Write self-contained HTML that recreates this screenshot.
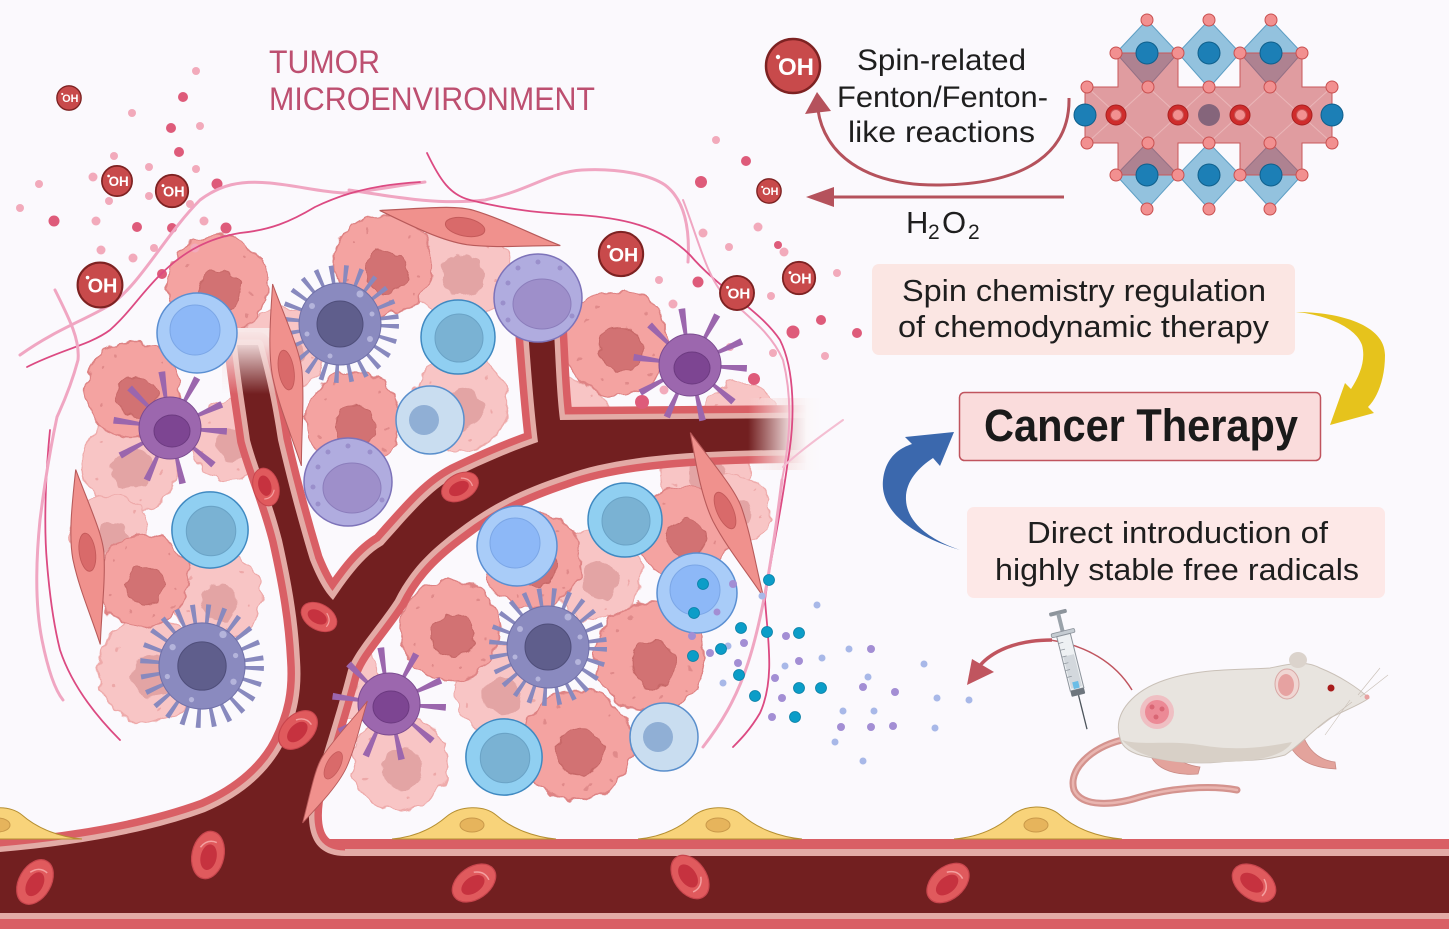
<!DOCTYPE html>
<html><head><meta charset="utf-8"><style>
html,body{margin:0;padding:0;background:#fbf9fd;}
svg{display:block;}
text{font-family:"Liberation Sans",Arial,sans-serif;}
</style></head><body>
<svg width="1449" height="929" viewBox="0 0 1449 929" xmlns="http://www.w3.org/2000/svg">
<defs>
<filter id="wob" x="-5%" y="-5%" width="110%" height="110%">
<feTurbulence type="fractalNoise" baseFrequency="0.07" numOctaves="2" seed="4" result="n"/>
<feDisplacementMap in="SourceGraphic" in2="n" scale="12" xChannelSelector="R" yChannelSelector="G"/>
</filter>
<linearGradient id="fadeV" x1="0" y1="0" x2="0" y2="1"><stop offset="0" stop-color="#f8e8e8" stop-opacity="1"/><stop offset="0.25" stop-color="#f8e6e6" stop-opacity="0.9"/><stop offset="1" stop-color="#f8e6e6" stop-opacity="0"/></linearGradient>
<linearGradient id="fadeH" x1="0" y1="0" x2="1" y2="0"><stop offset="0" stop-color="#f6e0e0" stop-opacity="0"/><stop offset="0.55" stop-color="#f7e6e7" stop-opacity="0.9"/><stop offset="0.8" stop-color="#fbf7f9" stop-opacity="1"/><stop offset="1" stop-color="#fbf9fd" stop-opacity="1"/></linearGradient>
<g id="tc"><circle r="50" fill="#f4a3a1" stroke="#de8384" stroke-width="1.5"/><circle cx="3" cy="6" r="21" fill="#d27273" stroke="#c76767"/>
<g fill="#e08a8a"><circle cx="-30" cy="-22" r="1.6"/><circle cx="-18" cy="-35" r="1.6"/><circle cx="28" cy="-28" r="1.6"/><circle cx="35" cy="10" r="1.6"/><circle cx="-35" cy="15" r="1.6"/><circle cx="10" cy="38" r="1.6"/><circle cx="-15" cy="35" r="1.6"/><circle cx="32" cy="30" r="1.6"/></g></g>
<g id="tl"><circle r="50" fill="#f8c5c5" stroke="#eeaaaa" stroke-width="1.5"/><circle cx="3" cy="6" r="21" fill="#e3a4a4"/>
<g fill="#eda8a8"><circle cx="-30" cy="-22" r="1.6"/><circle cx="28" cy="-28" r="1.6"/><circle cx="35" cy="10" r="1.6"/><circle cx="-35" cy="15" r="1.6"/><circle cx="10" cy="38" r="1.6"/></g></g>
<g id="bl"><circle r="40" fill="#a9ccf8" stroke="#5b8fd2" stroke-width="1.5"/><circle cx="-2" cy="-3" r="25" fill="#8db8f7" stroke="#7ba6e6"/></g>
<g id="cy"><circle r="37" fill="#90cff1" stroke="#3f89c1" stroke-width="1.5"/><circle cx="1" cy="1" r="24" fill="#7ab2d3" stroke="#6aa3c6"/></g>
<g id="pa"><circle r="34" fill="#c9ddf0" stroke="#5a8fcc" stroke-width="1.5"/><circle cx="-6" cy="0" r="15" fill="#90afd5"/></g>
<g id="lv"><circle r="44" fill="#b0acdf" stroke="#7d73b9" stroke-width="1.5"/><ellipse cx="4" cy="6" rx="29" ry="25" fill="#9e8fca" stroke="#8b7dbb"/><g fill="#9a8fcb"><circle cx="-30" cy="-15" r="2.5"/><circle cx="-20" cy="-30" r="2.5"/><circle cx="0" cy="-36" r="2.5"/><circle cx="22" cy="-30" r="2.5"/><circle cx="-35" cy="5" r="2.5"/><circle cx="-30" cy="22" r="2.5"/><circle cx="34" cy="18" r="2.5"/></g></g>
<g id="sp"><circle r="49" fill="none" stroke="#8889be" stroke-width="20" stroke-dasharray="4 9"/><circle r="41" fill="#8a8abf" stroke="#7171a9"/><circle r="23" fill="#5f5e8c" stroke="#4f4e7a"/><g fill="#b4b4db"><circle cx="-28" cy="-18" r="3"/><circle cx="20" cy="-30" r="3.5"/><circle cx="30" cy="15" r="3"/><circle cx="-10" cy="32" r="2.5"/><circle cx="-33" cy="10" r="2.5"/><circle cx="32" cy="-10" r="2.5"/></g></g>
<g id="dc"><circle r="42" fill="none" stroke="#9b66ad" stroke-width="30" stroke-dasharray="5 22"/><circle r="31" fill="#9c67ae" stroke="#7b4b90"/><ellipse cx="2" cy="3" rx="18" ry="16" fill="#7d4592" stroke="#6c3a80"/></g>
<g id="fb"><path d="M-92,0 C-50,-10 -20,-20 0,-18 C30,-15 60,-6 92,0 C60,6 30,15 0,17 C-25,18 -55,10 -92,0 Z" fill="#f0918d" stroke="#b85a5a" stroke-width="1.2"/><ellipse cx="-5" cy="0" rx="20" ry="9" fill="#d96a6a" stroke="#c45a5a"/></g>
<g id="rbc"><ellipse rx="24" ry="16" fill="#e05a5d" stroke="#c8454d" stroke-width="1.2"/><ellipse cx="-2" cy="1" rx="13" ry="8" fill="#c6323f"/><path d="M6,-9 Q16,-4 14,6" stroke="#f4a0a0" stroke-width="1.5" fill="none"/></g>
<path id="tree" d="M237,345 L258,345 C266,375 272,400 278,440 C285,470 295,510 310,560 C318,580 325,592 333,600 C350,575 365,555 383,545 C410,515 430,490 455,477 C490,460 515,450 538,442 C534,410 531,370 528,330 L554,330 C556,370 557,395 560,420 L805,418 L805,450 C700,450 620,455 565,475 C520,490 490,505 460,528 C430,550 410,570 395,600 C375,630 355,650 348,670 C335,720 318,770 310,800 C306,830 312,856 345,856 L420,856 L420,875 L0,875 L0,852 C80,845 150,832 205,812 C245,795 270,770 283,745 C298,715 302,690 300,660 C298,620 292,585 282,540 C272,500 258,470 250,440 C245,405 240,375 237,345 Z"/>
</defs>

<rect width="1449" height="929" fill="#fbf9fd"/>

<!-- tumor cells -->
<g filter="url(#wob)">
<use href="#tl" transform="translate(283,350) scale(.84)"/>
<use href="#tl" transform="translate(460,270)"/>
<use href="#tl" transform="translate(130,463) scale(.96)"/>
<use href="#tl" transform="translate(230,440) scale(.8)"/>
<use href="#tl" transform="translate(110,535) scale(.8)"/>
<use href="#tl" transform="translate(217,597) scale(.88)"/>
<use href="#tl" transform="translate(150,670) scale(1.04)"/>
<use href="#tl" transform="translate(460,403) scale(.96)"/>
<use href="#tl" transform="translate(740,420) scale(.76)"/>
<use href="#tl" transform="translate(705,470) scale(.9)"/>
<use href="#tl" transform="translate(597,575) scale(.9)"/>
<use href="#tl" transform="translate(500,690) scale(.9)"/>
<use href="#tl" transform="translate(400,763) scale(.96)"/>
<use href="#tl" transform="translate(570,420) scale(.8)"/>
<use href="#tl" transform="translate(340,680) scale(.8)"/>
<use href="#tl" transform="translate(735,510) scale(.7)"/>
<use href="#tc" transform="translate(217,285)"/>
<use href="#tc" transform="translate(133,390) scale(.96)"/>
<use href="#tc" transform="translate(143,580) scale(.92)"/>
<use href="#tc" transform="translate(383,265)"/>
<use href="#tc" transform="translate(353,420) scale(.96)"/>
<use href="#tc" transform="translate(617,343) scale(1.04)"/>
<use href="#tc" transform="translate(683,533) scale(.92)"/>
<use href="#tc" transform="translate(533,560) scale(.96)"/>
<use href="#tc" transform="translate(450,630)"/>
<use href="#tc" transform="translate(650,657) scale(1.1)"/>
<use href="#tc" transform="translate(577,745) scale(1.1)"/>
</g>

<!-- bottom vessel walls -->
<rect x="0" y="839" width="1449" height="10" fill="#d95f65"/>
<rect x="0" y="849" width="1449" height="7" fill="#e3aba6"/>
<rect x="0" y="913" width="1449" height="6" fill="#e3aba6"/>
<rect x="0" y="919" width="1449" height="10" fill="#d95f65"/>
<!-- tree vessel -->
<use href="#tree" fill="#721f20" stroke="#d95f65" stroke-width="26" stroke-linejoin="round"/>
<use href="#tree" fill="#721f20" stroke="#e3aba6" stroke-width="11" stroke-linejoin="round"/>
<use href="#tree" fill="#721f20" stroke="none"/>
<rect x="345" y="839" width="1104" height="10" fill="#d95f65"/>
<rect x="345" y="849" width="1104" height="7" fill="#e3aba6"/>
<rect x="0" y="856" width="1449" height="57" fill="#721f20"/>

<!-- red blood cells -->
<use href="#rbc" transform="translate(35,882) rotate(-60)"/>
<use href="#rbc" transform="translate(208,855) rotate(-78)"/>
<use href="#rbc" transform="translate(474,883) rotate(-35)"/>
<use href="#rbc" transform="translate(690,877) rotate(55)"/>
<use href="#rbc" transform="translate(948,883) rotate(-40)"/>
<use href="#rbc" transform="translate(1254,883) rotate(35)"/>
<use href="#rbc" transform="translate(266,487) rotate(75) scale(.8)"/>
<use href="#rbc" transform="translate(319,617) rotate(30) scale(.8)"/>
<use href="#rbc" transform="translate(298,730) rotate(-45) scale(.95)"/>
<use href="#rbc" transform="translate(460,487) rotate(-28) scale(.82)"/>

<!-- fades -->
<rect x="222" y="328" width="56" height="66" fill="url(#fadeV)"/>
<rect x="748" y="398" width="74" height="72" fill="url(#fadeH)"/>

<!-- pink dots -->
<g fill="#de5b7a">
<circle cx="183" cy="97" r="5"/><circle cx="171" cy="128" r="5"/><circle cx="179" cy="152" r="5"/><circle cx="217" cy="184" r="5.5"/><circle cx="54" cy="221" r="5.5"/><circle cx="137" cy="227" r="5"/><circle cx="172" cy="228" r="5"/><circle cx="226" cy="228" r="5.5"/><circle cx="162" cy="274" r="5"/><circle cx="746" cy="161" r="5"/><circle cx="701" cy="182" r="6"/><circle cx="698" cy="282" r="5.5"/><circle cx="793" cy="332" r="6.5"/><circle cx="821" cy="320" r="5"/><circle cx="754" cy="379" r="6"/><circle cx="642" cy="402" r="7"/><circle cx="857" cy="333" r="5"/><circle cx="778" cy="245" r="4"/>
</g>
<g fill="#f2aabb">
<circle cx="196" cy="71" r="4"/><circle cx="132" cy="113" r="4"/><circle cx="200" cy="126" r="4"/><circle cx="114" cy="156" r="4"/><circle cx="149" cy="167" r="4"/><circle cx="196" cy="169" r="4"/><circle cx="93" cy="177" r="4.5"/><circle cx="39" cy="184" r="4"/><circle cx="20" cy="208" r="4"/><circle cx="96" cy="221" r="4.5"/><circle cx="109" cy="201" r="4"/><circle cx="149" cy="196" r="4"/><circle cx="190" cy="204" r="4"/><circle cx="204" cy="221" r="4.5"/><circle cx="101" cy="250" r="4.5"/><circle cx="154" cy="248" r="4"/><circle cx="133" cy="258" r="4.5"/><circle cx="195" cy="248" r="4.5"/><circle cx="716" cy="140" r="4"/><circle cx="703" cy="233" r="4.5"/><circle cx="729" cy="247" r="4"/><circle cx="758" cy="227" r="4.5"/><circle cx="784" cy="252" r="4.5"/><circle cx="659" cy="280" r="4"/><circle cx="673" cy="304" r="4.5"/><circle cx="771" cy="296" r="4"/><circle cx="837" cy="273" r="4"/><circle cx="773" cy="353" r="4"/><circle cx="730" cy="347" r="4"/><circle cx="825" cy="356" r="4"/><circle cx="664" cy="390" r="4.5"/>
</g>

<!-- immune cells -->
<use href="#bl" transform="translate(197,333)"/>
<use href="#bl" transform="translate(517,546)"/>
<use href="#bl" transform="translate(697,593)"/>
<use href="#cy" transform="translate(458,337)"/>
<use href="#cy" transform="translate(210,530) scale(1.03)"/>
<use href="#cy" transform="translate(625,520)"/>
<use href="#cy" transform="translate(504,757) scale(1.03)"/>
<use href="#pa" transform="translate(430,420)"/>
<use href="#pa" transform="translate(664,737)"/>
<use href="#lv" transform="translate(538,298)"/>
<use href="#lv" transform="translate(348,482)"/>
<use href="#sp" transform="translate(340,324)"/>
<use href="#sp" transform="translate(202,666) scale(1.05)"/>
<use href="#sp" transform="translate(548,647)"/>
<use href="#dc" transform="translate(170,428)"/>
<use href="#dc" transform="translate(690,365)"/>
<use href="#dc" transform="translate(389,704)"/>

<!-- fibroblasts -->
<use href="#fb" transform="translate(470,228) rotate(11)"/>
<use href="#fb" transform="translate(88,557) rotate(82) scale(.96 .9)"/>
<use href="#fb" transform="translate(287,375) rotate(81) scale(1 .85)"/>
<use href="#fb" transform="translate(727,515) rotate(66) scale(.98 .9)"/>
<use href="#fb" transform="translate(335,762) rotate(-62) scale(.75)"/>

<!-- fibers -->
<g fill="none" stroke-linecap="round">
<path d="M20,355 C55,330 85,320 110,305 C140,285 165,235 200,200 C220,185 240,180 270,183 C300,186 320,192 345,193 C380,190 400,185 425,182" stroke="#f0a6c2" stroke-width="3"/>
<path d="M349,190 C400,198 440,205 485,200 C530,190 550,172 582,170 C620,168 650,175 665,185 C685,200 690,230 688,262" stroke="#f0a6c2" stroke-width="3"/>
<path d="M27,367 C60,350 90,345 110,330 C130,312 140,295 160,275 C185,250 210,238 240,233 C270,230 290,222 315,207 C340,195 370,185 420,182" stroke="#dc4a82" stroke-width="1.8"/>
<path d="M427,153 C440,180 450,195 470,200 C510,210 540,213 580,215 C620,218 660,225 690,255 C720,290 760,310 780,340 C795,370 795,420 788,460 C780,520 770,560 765,600 C768,640 775,680 760,713 C750,730 740,740 733,747" stroke="#dc4a82" stroke-width="1.8"/>
<path d="M683,200 C695,230 705,270 720,290 C745,315 770,330 783,360 C793,400 790,440 782,480" stroke="#f0a6c2" stroke-width="2"/>
<path d="M782,480 C772,560 762,620 748,663 C736,700 720,725 703,747" stroke="#f0a6c2" stroke-width="3"/>
<path d="M843,420 C815,440 795,455 783,467" stroke="#f4bed2" stroke-width="2"/>
<path d="M50,430 C45,480 44,530 47,563 C50,600 55,630 60,650 C70,680 90,710 120,740" stroke="#dc4a82" stroke-width="1.8"/>
<path d="M55,290 C70,320 80,340 78,360 C70,390 60,410 57,417 C50,450 45,480 40,520 C35,570 36,610 42,640 C48,670 55,690 63,700" stroke="#f0a6c2" stroke-width="3"/>
</g>

<!-- yellow cells -->
<g>
<g transform="translate(0,839)"><path d="M-82,0 C-60,-2 -42,-10 -28,-22 C-14,-34 10,-34 22,-24 C38,-10 60,-2 82,0 Z" fill="#f8d37a" stroke="#b58f32" stroke-width="1"/><ellipse cx="-2" cy="-14" rx="12" ry="7" fill="#e6b45c" stroke="#c9994a"/></g>
<g transform="translate(474,839)"><path d="M-82,0 C-60,-2 -42,-10 -28,-22 C-14,-34 10,-34 22,-24 C38,-10 60,-2 82,0 Z" fill="#f8d37a" stroke="#b58f32" stroke-width="1"/><ellipse cx="-2" cy="-14" rx="12" ry="7" fill="#e6b45c" stroke="#c9994a"/></g>
<g transform="translate(720,839)"><path d="M-82,0 C-60,-2 -42,-10 -28,-22 C-14,-34 10,-34 22,-24 C38,-10 60,-2 82,0 Z" fill="#f8d37a" stroke="#b58f32" stroke-width="1"/><ellipse cx="-2" cy="-14" rx="12" ry="7" fill="#e6b45c" stroke="#c9994a"/></g>
<g transform="translate(1038,839)"><path d="M-84,0 C-60,-2 -42,-10 -28,-22 C-14,-35 10,-35 22,-24 C38,-10 60,-2 84,0 Z" fill="#f8d37a" stroke="#b58f32" stroke-width="1"/><ellipse cx="-2" cy="-14" rx="12" ry="7" fill="#e6b45c" stroke="#c9994a"/></g>
</g>

<!-- particles -->
<g fill="#a8b8e8">
<circle cx="817" cy="605" r="3.5"/><circle cx="728" cy="646" r="3.5"/><circle cx="723" cy="683" r="3.5"/><circle cx="785" cy="666" r="3.5"/><circle cx="822" cy="658" r="3.5"/><circle cx="849" cy="649" r="3.5"/><circle cx="868" cy="677" r="3.5"/><circle cx="874" cy="711" r="3.5"/><circle cx="843" cy="711" r="3.5"/><circle cx="835" cy="742" r="3.5"/><circle cx="863" cy="761" r="3.5"/><circle cx="924" cy="664" r="3.5"/><circle cx="937" cy="698" r="3.5"/><circle cx="935" cy="728" r="3.5"/><circle cx="969" cy="700" r="3.5"/><circle cx="762" cy="596" r="3.5"/>
</g>
<g fill="#a38ed4">
<circle cx="733" cy="584" r="4"/><circle cx="717" cy="612" r="3.5"/><circle cx="692" cy="636" r="4"/><circle cx="744" cy="643" r="4"/><circle cx="710" cy="653" r="4"/><circle cx="738" cy="663" r="4"/><circle cx="786" cy="636" r="4"/><circle cx="799" cy="661" r="4"/><circle cx="775" cy="678" r="4"/><circle cx="782" cy="698" r="4"/><circle cx="772" cy="717" r="4"/><circle cx="871" cy="649" r="4"/><circle cx="863" cy="687" r="4"/><circle cx="895" cy="692" r="4"/><circle cx="841" cy="727" r="4"/><circle cx="871" cy="727" r="4"/><circle cx="893" cy="726" r="4"/>
</g>
<g fill="#0b9dc8" stroke="#087fa5" stroke-width=".8">
<circle cx="703" cy="584" r="5.5"/><circle cx="694" cy="613" r="5.5"/><circle cx="741" cy="628" r="5.5"/><circle cx="721" cy="649" r="5.5"/><circle cx="693" cy="656" r="5.5"/><circle cx="769" cy="580" r="5.5"/><circle cx="767" cy="632" r="5.5"/><circle cx="799" cy="633" r="5.5"/><circle cx="739" cy="675" r="5.5"/><circle cx="755" cy="696" r="5.5"/><circle cx="799" cy="688" r="5.5"/><circle cx="821" cy="688" r="5.5"/><circle cx="795" cy="717" r="5.5"/>
</g>

<!-- OH radicals -->
<g transform="translate(69,98) scale(.45)"><circle r="27" fill="#c84a4b" stroke="#7d2222" stroke-width="3"/><text x="3" y="9" font-size="24" font-weight="bold" fill="#fff" text-anchor="middle">OH</text><circle cx="-15" cy="-9" r="2.4" fill="#fff"/></g>
<g transform="translate(117,181) scale(.56)"><circle r="27" fill="#c84a4b" stroke="#7d2222" stroke-width="3"/><text x="3" y="9" font-size="24" font-weight="bold" fill="#fff" text-anchor="middle">OH</text><circle cx="-15" cy="-9" r="2.4" fill="#fff"/></g>
<g transform="translate(172,191) scale(.6)"><circle r="27" fill="#c84a4b" stroke="#7d2222" stroke-width="3"/><text x="3" y="9" font-size="24" font-weight="bold" fill="#fff" text-anchor="middle">OH</text><circle cx="-15" cy="-9" r="2.4" fill="#fff"/></g>
<g transform="translate(100,285) scale(.83)"><circle r="27" fill="#c84a4b" stroke="#7d2222" stroke-width="2.5"/><text x="3" y="9" font-size="24" font-weight="bold" fill="#fff" text-anchor="middle">OH</text><circle cx="-15" cy="-9" r="2.2" fill="#fff"/></g>
<g transform="translate(621,254) scale(.82)"><circle r="27" fill="#c84a4b" stroke="#7d2222" stroke-width="2.5"/><text x="3" y="9" font-size="24" font-weight="bold" fill="#fff" text-anchor="middle">OH</text><circle cx="-15" cy="-9" r="2.2" fill="#fff"/></g>
<g transform="translate(737,293) scale(.63)"><circle r="27" fill="#c84a4b" stroke="#7d2222" stroke-width="3"/><text x="3" y="9" font-size="24" font-weight="bold" fill="#fff" text-anchor="middle">OH</text><circle cx="-15" cy="-9" r="2.4" fill="#fff"/></g>
<g transform="translate(799,278) scale(.6)"><circle r="27" fill="#c84a4b" stroke="#7d2222" stroke-width="3"/><text x="3" y="9" font-size="24" font-weight="bold" fill="#fff" text-anchor="middle">OH</text><circle cx="-15" cy="-9" r="2.4" fill="#fff"/></g>
<g transform="translate(769,191) scale(.45)"><circle r="27" fill="#c84a4b" stroke="#7d2222" stroke-width="3"/><text x="3" y="9" font-size="24" font-weight="bold" fill="#fff" text-anchor="middle">OH</text><circle cx="-15" cy="-9" r="2.4" fill="#fff"/></g>
<g transform="translate(793,66)"><circle r="27" fill="#c84a4b" stroke="#7d2222" stroke-width="2.5"/><text x="3" y="9" font-size="24" font-weight="bold" fill="#fff" text-anchor="middle">OH</text><circle cx="-15" cy="-9" r="2.2" fill="#fff"/></g>

<!-- title -->
<text x="269" y="73" font-size="32" fill="#bd4f70" textLength="111" lengthAdjust="spacingAndGlyphs">TUMOR</text>
<text x="269" y="110" font-size="32" fill="#bd4f70" textLength="326" lengthAdjust="spacingAndGlyphs">MICROENVIRONMENT</text>

<!-- Fenton text and arrows -->
<g fill="#1e1e1e" font-size="30">
<text x="857" y="70" textLength="169" lengthAdjust="spacingAndGlyphs">Spin-related</text>
<text x="837" y="107" textLength="211" lengthAdjust="spacingAndGlyphs">Fenton/Fenton-</text>
<text x="848" y="142" textLength="187" lengthAdjust="spacingAndGlyphs">like reactions</text>
<text y="233" font-size="31"><tspan x="906">H</tspan><tspan x="928" y="239" font-size="21">2</tspan><tspan x="942" y="233">O</tspan><tspan x="968" y="239" font-size="21">2</tspan></text>
</g>
<path d="M1069,98 C1070,150 1030,184 940,185 C862,186 824,152 818,110" fill="none" stroke="#b5525c" stroke-width="3"/>
<polygon points="817,92 805,114 831,111" fill="#b5525c"/>
<line x1="1064" y1="197" x2="828" y2="197" stroke="#b5525c" stroke-width="3"/>
<polygon points="806,197 834,187 834,207" fill="#b5525c"/>

<!-- crystal -->
<g>
<g fill="#80b8d8" fill-opacity=".85" stroke="#5d9ec4" stroke-width="1">
<polygon points="1147,20 1178,53 1147,88 1116,53"/>
<polygon points="1209,20 1240,53 1209,88 1178,53"/>
<polygon points="1271,20 1302,53 1271,88 1240,53"/>
<polygon points="1147,143 1178,175 1147,209 1116,175"/>
<polygon points="1209,143 1240,175 1209,209 1178,175"/>
<polygon points="1271,143 1302,175 1271,209 1240,175"/>
</g>
<circle cx="1209" cy="115" r="11" fill="#3e86b0"/>
<path d="M1118,53 H1178 V87 H1240 V53 H1302 V87 H1332 V143 H1302 V175 H1240 V143 H1178 V175 H1118 V143 H1085 V87 H1118 Z" fill="#c8474a" fill-opacity=".52" stroke="#c8585a" stroke-width="1"/>
<g stroke="#f4d0d0" stroke-opacity=".5" stroke-width="1">
<line x1="1087" y1="87" x2="1148" y2="143"/><line x1="1148" y1="87" x2="1087" y2="143"/>
<line x1="1148" y1="87" x2="1209" y2="143"/><line x1="1209" y1="87" x2="1148" y2="143"/>
<line x1="1209" y1="87" x2="1270" y2="143"/><line x1="1270" y1="87" x2="1209" y2="143"/>
<line x1="1270" y1="87" x2="1332" y2="143"/><line x1="1332" y1="87" x2="1270" y2="143"/>
</g>
<g fill="#cf2c2c" stroke="#a81f1f">
<circle cx="1116" cy="115" r="10"/><circle cx="1178" cy="115" r="10"/><circle cx="1240" cy="115" r="10"/><circle cx="1302" cy="115" r="10"/>
</g>
<g fill="#1c7fb6" stroke="#0f5f8c" stroke-width="1">
<circle cx="1147" cy="53" r="11"/><circle cx="1209" cy="53" r="11"/><circle cx="1271" cy="53" r="11"/>
<circle cx="1147" cy="175" r="11"/><circle cx="1209" cy="175" r="11"/><circle cx="1271" cy="175" r="11"/>
<circle cx="1085" cy="115" r="11"/><circle cx="1332" cy="115" r="11"/>
</g>
<g fill="#f29090" stroke="#c85050" stroke-width="1">
<circle cx="1147" cy="20" r="6"/><circle cx="1209" cy="20" r="6"/><circle cx="1271" cy="20" r="6"/>
<circle cx="1116" cy="53" r="6"/><circle cx="1178" cy="53" r="6"/><circle cx="1240" cy="53" r="6"/><circle cx="1302" cy="53" r="6"/>
<circle cx="1087" cy="87" r="6"/><circle cx="1148" cy="87" r="6"/><circle cx="1209" cy="87" r="6"/><circle cx="1270" cy="87" r="6"/><circle cx="1332" cy="87" r="6"/>
<circle cx="1116" cy="115" r="5.5"/><circle cx="1178" cy="115" r="5.5"/><circle cx="1240" cy="115" r="5.5"/><circle cx="1302" cy="115" r="5.5"/>
<circle cx="1087" cy="143" r="6"/><circle cx="1148" cy="143" r="6"/><circle cx="1209" cy="143" r="6"/><circle cx="1270" cy="143" r="6"/><circle cx="1332" cy="143" r="6"/>
<circle cx="1116" cy="175" r="6"/><circle cx="1178" cy="175" r="6"/><circle cx="1240" cy="175" r="6"/><circle cx="1302" cy="175" r="6"/>
<circle cx="1147" cy="209" r="6"/><circle cx="1209" cy="209" r="6"/><circle cx="1270" cy="209" r="6"/>
</g>
</g>

<!-- boxes -->
<rect x="872" y="264" width="423" height="91" rx="7" fill="#fbe6e3"/>
<text x="902" y="301" font-size="31" fill="#1e1e1e" textLength="364" lengthAdjust="spacingAndGlyphs">Spin chemistry regulation</text>
<text x="898" y="337" font-size="31" fill="#1e1e1e" textLength="371" lengthAdjust="spacingAndGlyphs">of chemodynamic therapy</text>

<rect x="959.5" y="392.5" width="361" height="68" rx="5" fill="#fadcdc" stroke="#c0545e" stroke-width="1.5"/>
<text x="984" y="441" font-size="45" font-weight="bold" fill="#1a1a1a" textLength="314" lengthAdjust="spacingAndGlyphs">Cancer Therapy</text>

<rect x="967" y="507" width="418" height="91" rx="7" fill="#fde8e7"/>
<text x="1027" y="543" font-size="31" fill="#1e1e1e" textLength="301" lengthAdjust="spacingAndGlyphs">Direct introduction of</text>
<text x="995" y="580" font-size="31" fill="#1e1e1e" textLength="364" lengthAdjust="spacingAndGlyphs">highly stable free radicals</text>

<!-- yellow arrow -->
<path d="M1296,312 C1340,312 1385,325 1385,355 C1385,380 1377,398 1368,407 L1374,413 L1330,425 L1345,383 L1351,389 C1360,375 1366,360 1362,345 C1355,325 1320,314 1296,312 Z" fill="#e6c31c"/>
<!-- blue arrow -->
<path d="M960,550 C910,535 880,510 883,480 C885,462 894,450 912,444 L905,437 L954,432 L940,466 L933,458 C918,468 905,482 906,500 C907,520 925,538 960,550 Z" fill="#3b68ad"/>

<!-- syringe arrow -->
<path d="M1132,690 C1115,662 1085,645 1050,640" fill="none" stroke="#c0555f" stroke-width="1.5"/>
<path d="M1052,640 C1015,640 990,652 978,668" fill="none" stroke="#c0555f" stroke-width="3.5"/>
<polygon points="967,685 972,659 994,672" fill="#c0555f"/>

<!-- syringe -->
<g transform="translate(1072,669) rotate(-14)">
<rect x="-9" y="-60" width="18" height="4" rx="1.5" fill="#8d949c"/>
<rect x="-2" y="-57" width="4" height="20" fill="#9aa2aa"/>
<rect x="-12" y="-39" width="24" height="4" rx="1.5" fill="#c5ccd2" stroke="#8d949c" stroke-width=".8"/>
<rect x="-7" y="-35" width="14" height="56" fill="#eef1f3" stroke="#8d949c" stroke-width="1"/>
<rect x="-5.5" y="-14" width="11" height="33" fill="#d3d8dd"/>
<g stroke="#8d949c" stroke-width=".7"><line x1="-7" y1="-28" x2="-2" y2="-28"/><line x1="-7" y1="-21" x2="-2" y2="-21"/><line x1="-7" y1="-14" x2="-2" y2="-14"/><line x1="-7" y1="-7" x2="-2" y2="-7"/><line x1="-7" y1="0" x2="-2" y2="0"/><line x1="-7" y1="7" x2="-2" y2="7"/></g>
<rect x="-3" y="13" width="6" height="7" fill="#6bbde6"/>
<rect x="-7" y="21" width="14" height="6" rx="1" fill="#6e767e"/>
<line x1="0" y1="27" x2="0" y2="62" stroke="#4d555c" stroke-width="1.3"/>
</g>

<!-- mouse -->
<g>
<path d="M1122,740 C1090,748 1068,770 1074,790 C1082,808 1115,805 1140,797 C1170,788 1210,785 1237,790" fill="none" stroke="#d4938e" stroke-width="7" stroke-linecap="round"/>
<path d="M1122,740 C1090,748 1068,770 1074,790 C1082,808 1115,805 1140,797 C1170,788 1210,785 1237,790" fill="none" stroke="#e9b5b0" stroke-width="2.5" stroke-linecap="round"/>
<path d="M1148,748 C1152,768 1172,776 1198,774 L1200,767 C1185,765 1172,758 1168,746 Z" fill="#e3a39c" stroke="#c98a84" stroke-width=".8"/>
<path d="M1288,742 C1296,760 1312,768 1336,769 L1335,762 C1320,760 1310,752 1304,738 Z" fill="#e3a39c" stroke="#c98a84" stroke-width=".8"/>
<path d="M1120,738 C1112,712 1135,690 1165,680 C1200,668 1240,670 1270,668 C1290,664 1305,660 1320,668 C1340,676 1358,688 1369,698 C1360,705 1345,710 1330,718 C1315,728 1300,745 1285,755 C1260,762 1240,760 1220,762 C1190,765 1165,760 1148,757 C1132,754 1122,748 1120,738 Z" fill="#e8e4df" stroke="#c9c0b7" stroke-width="1"/>
<path d="M1122,740 C1140,746 1170,740 1200,745 C1240,752 1270,746 1292,742 C1285,755 1260,762 1220,762 C1180,765 1140,760 1122,740 Z" fill="#d8d0c7"/>
<ellipse cx="1298" cy="660" rx="9" ry="8" fill="#dbd3cc"/>
<ellipse cx="1287" cy="684" rx="12" ry="15" fill="#f0d6d3" stroke="#d8a8a5"/>
<ellipse cx="1286" cy="685" rx="8" ry="11" fill="#e6a2a1"/>
<circle cx="1331" cy="688" r="3.5" fill="#a81c1c"/>
<circle cx="1367" cy="697" r="2.5" fill="#e8a0a0"/>
<g stroke="#c8beb5" stroke-width=".6"><line x1="1358" y1="695" x2="1380" y2="668"/><line x1="1360" y1="697" x2="1388" y2="675"/><line x1="1352" y1="702" x2="1318" y2="728"/><line x1="1350" y1="700" x2="1325" y2="735"/></g>
<circle cx="1157" cy="712" r="17" fill="#f4a6b0" fill-opacity=".6"/>
<circle cx="1157" cy="712" r="12" fill="#ec8a96"/>
<g fill="#d96674"><circle cx="1152" cy="707" r="2.5"/><circle cx="1162" cy="709" r="2.5"/><circle cx="1156" cy="717" r="2.5"/></g>
</g>
</svg>
</body></html>
